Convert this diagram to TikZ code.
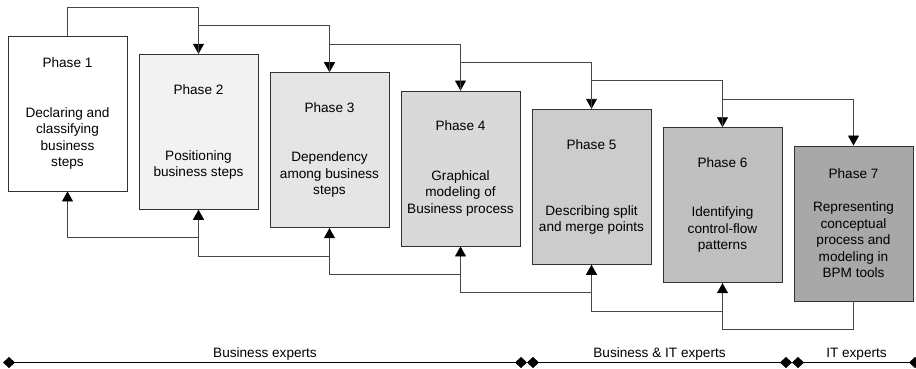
\documentclass[tikz,border=0pt]{standalone}
\usepackage{fontspec}
\setmainfont{Liberation Sans}
\usetikzlibrary{arrows.meta}
\begin{document}
\begin{tikzpicture}[x=1pt,y=-1pt,
	phase/.style={rectangle, draw=black!80, line width=0.9pt, minimum width=119pt, minimum height=155pt, inner sep=0pt, align=center, text=black, font=\fontsize{13.6}{16.5}\selectfont},
	flow/.style={draw=black!72, line width=0.8pt, -{Triangle[width=11pt,length=10pt,black]}},
	span/.style={draw=black, line width=0.8pt, {Diamond[width=11pt,length=12pt]}-{Diamond[width=11pt,length=12pt]}},
	who/.style={above, inner sep=2pt, text=black, font=\fontsize{13.6}{16.5}\selectfont}]
	\useasboundingbox (0,0) rectangle (916,369);
	\node (P1) at ( 67.5, 113.5)	[phase, fill = white]	{Phase 1\\[33pt]Declaring and\\classifying\\business\\steps};
	\node (P2) at (198.5, 131.8)	[phase, fill = black!5]	{Phase 2\\[49.5pt]Positioning\\business steps};
	\node (P3) at (329.5, 150.2)	[phase, fill = black!10]	{Phase 3\\[33pt]Dependency\\among business\\steps};
	\node (P4) at (460.5, 168.5)	[phase, fill = black!15]	{Phase 4\\[33pt]Graphical\\modeling of\\Business process};
	\node (P5) at (591.5, 186.8)	[phase, fill = black!20]	{Phase 5\\[49.5pt]Describing split\\and merge points};
	\node (P6) at (722.5, 205.2)	[phase, fill = black!25]	{Phase 6\\[33pt]Identifying\\control-flow\\patterns};
	\node (P7) at (853.5, 223.5)	[phase, fill = black!34]	{Phase 7\\[16.5pt]Representing\\conceptual\\process and\\modeling in\\BPM tools};
	% forward links over the top
	\draw[flow] (P1.north) -- ++(0,-28) -| (P2.north);
	\draw[flow] (P2.north) -- ++(0,-28) -| (P3.north);
	\draw[flow] (P3.north) -- ++(0,-28) -| (P4.north);
	\draw[flow] (P4.north) -- ++(0,-28) -| (P5.north);
	\draw[flow] (P5.north) -- ++(0,-28) -| (P6.north);
	\draw[flow] (P6.north) -- ++(0,-28) -| (P7.north);
	% feedback links underneath
	\draw[flow] (P2.south) -- ++(0,28) -| (P1.south);
	\draw[flow] (P3.south) -- ++(0,28) -| (P2.south);
	\draw[flow] (P4.south) -- ++(0,28) -| (P3.south);
	\draw[flow] (P5.south) -- ++(0,28) -| (P4.south);
	\draw[flow] (P6.south) -- ++(0,28) -| (P5.south);
	\draw[flow] (P7.south) -- ++(0,28) -| (P6.south);
	% who does it
	\coordinate (S0) at (3, 362.5);
	\coordinate (S1) at (527, 362.5);
	\coordinate (S2) at (792, 362.5);
	\coordinate (S3) at (921, 362.5);
	\draw[span] (S0) -- node[who] {Business experts} (S1);
	\draw[span] (S1) -- node[who] {Business \& IT experts} (S2);
	\draw[span] (S2) -- node[who] {IT experts} (S3);
\end{tikzpicture}
\end{document}
